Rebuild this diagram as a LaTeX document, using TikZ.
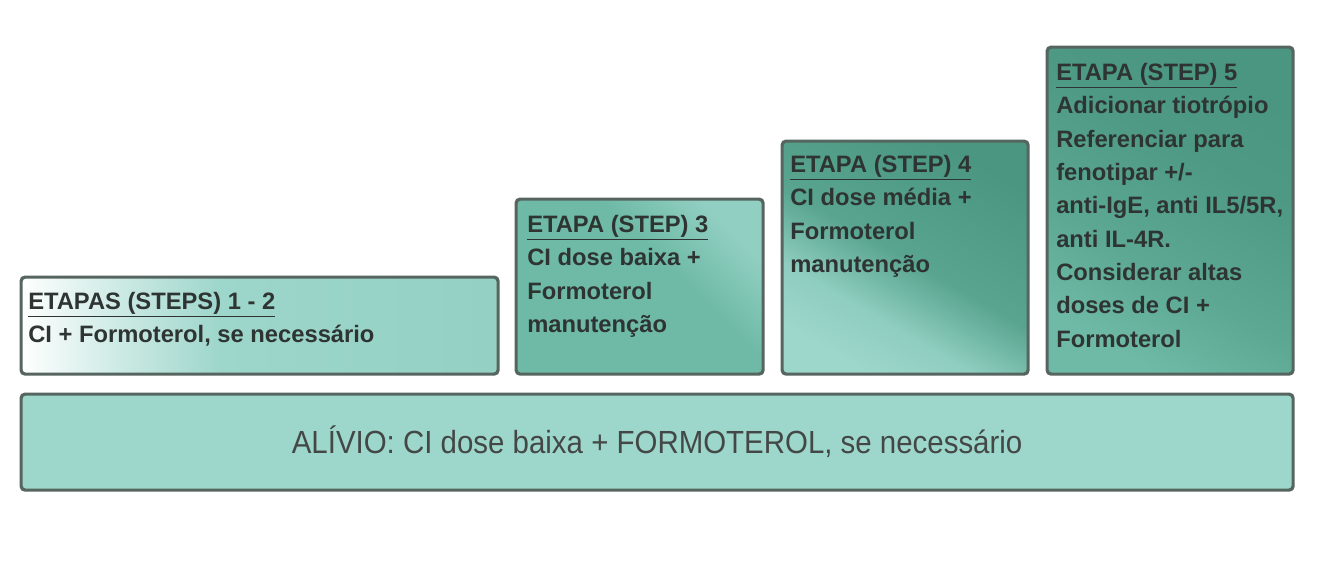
\documentclass[tikz,border=0pt]{standalone}
\usepackage{fontspec}
\setmainfont{Liberation Sans}
\newfontfamily\narrowfont[FakeStretch=0.92]{Liberation Sans}
\usetikzlibrary{shadows}

\definecolor{tealpale}{HTML}{9DD6CB}
\definecolor{tealmid}{HTML}{6EBAA6}
\definecolor{tealdark}{HTML}{4A9680}
\definecolor{frame}{HTML}{56655F}
\definecolor{ink}{HTML}{2E3431}

\pgfdeclarehorizontalshading{fadein}{100bp}{color(0bp)=(white); color(25bp)=(white);
  color(36bp)=(tealpale!55!white); color(46bp)=(tealpale); color(75bp)=(tealpale!80!tealmid);
  color(100bp)=(tealpale!80!tealmid)}
\pgfdeclareverticalshading{glowthree}{100bp}{color(0bp)=(tealmid); color(25bp)=(tealmid);
  color(58bp)=(tealmid); color(75bp)=(tealpale!75!tealmid); color(100bp)=(tealpale!75!tealmid)}
\pgfdeclareverticalshading{glowfour}{100bp}{color(0bp)=(tealpale); color(25bp)=(tealpale);
  color(36bp)=(tealpale!70!tealmid); color(50bp)=(tealdark!60!tealmid); color(75bp)=(tealdark);
  color(100bp)=(tealdark)}
\pgfdeclareverticalshading{glowfive}{100bp}{color(0bp)=(tealmid); color(25bp)=(tealmid);
  color(40bp)=(tealdark!50!tealmid); color(60bp)=(tealdark!90!tealmid); color(75bp)=(tealdark);
  color(100bp)=(tealdark)}

\tikzset{
  stepbox/.style={draw=frame, line width=2.4pt, rounded corners=3pt, anchor=north west,
    inner sep=0pt, drop shadow={opacity=0.2, shadow xshift=0.8pt, shadow yshift=-0.8pt}},
  steptext/.style={anchor=north west, align=left, inner sep=0pt, text=ink,
    font=\bfseries\fontsize{17.8}{25}\selectfont},
}

\begin{document}
\begin{tikzpicture}[x=0.75pt, y=-0.75pt]
    \useasboundingbox (0,0) rectangle (1334,562);

    \node[stepbox, shading=fadein, minimum width=357.75pt, minimum height=72.75pt] (step12) at (19.5,275.5) {};
    \node[stepbox, shading=glowthree, shading angle=-45, minimum width=185.25pt, minimum height=131.25pt] (step3) at (514.5,197.5) {};
    \node[stepbox, shading=glowfour, shading angle=-30, minimum width=184.5pt, minimum height=174.75pt] (step4) at (780.5,139.5) {};
    \node[stepbox, shading=glowfive, shading angle=-30, minimum width=184.5pt, minimum height=245.25pt] (step5) at (1045.5,45.5) {};
    \node[stepbox, fill=tealpale, minimum width=954pt, minimum height=72pt] (relief) at (19.5,392.5) {};

    \node[steptext] (text12) at (28,292) {\underline{ETAPAS (STEPS) 1 - 2}\\CI + Formoterol, se necessário};
    \node[steptext] (text3) at (527,215) {\underline{ETAPA (STEP) 3}\\CI dose baixa +\\Formoterol\\manutenção};
    \node[steptext] (text4) at (790,155) {\underline{ETAPA (STEP) 4}\\CI dose média +\\Formoterol\\manutenção};
    \node[steptext] (text5) at (1056,63) {\underline{ETAPA (STEP) 5}\\Adicionar tiotrópio\\Referenciar para\\fenotipar +/-\\anti-IgE, anti IL5/5R,\\anti IL-4R.\\Considerar altas\\doses de CI +\\Formoterol};

    \node[text=ink!90, font=\narrowfont\fontsize{24}{28}\selectfont] (relieftext) at (relief.center) {ALÍVIO: CI dose baixa + FORMOTEROL, se necessário};
\end{tikzpicture}
\end{document}
